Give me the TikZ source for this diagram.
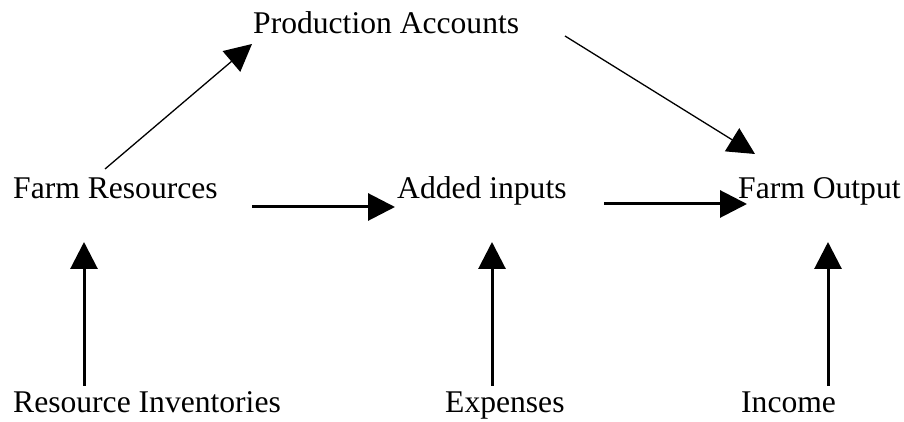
\documentclass[tikz,border=0pt]{standalone}
\usepackage{fontspec}
\setmainfont{Liberation Serif}
\usetikzlibrary{arrows.meta, calc}
\tikzset{>={Triangle[length=27pt,width=27pt]}}
\tikzset{
  boxtext/.style={inner sep=0pt, anchor=base west, font=\fontsize{31.6}{38}\selectfont},
  thinflow/.style={->, line width=1.3pt},
  thickflow/.style={->, line width=3pt}
}

\begin{document}
\begin{tikzpicture}[x=1pt, y=1pt]
      \useasboundingbox (0, 0) rectangle (904, 422);
      % account boxes
      \node[boxtext] (prod) at (253, 388) {Production Accounts};
      \node[boxtext] (fres) at (13, 223) {Farm Resources};
      \node[boxtext] (added) at (397, 223) {Added inputs};
      \node[boxtext] (fout) at (738, 223) {Farm Output};
      \node[boxtext] (resinv) at (13, 9) {Resource Inventories};
      \node[boxtext] (exp) at (445, 9) {Expenses};
      \node[boxtext] (inc) at (741, 9) {Income};
      % flows
      \draw[thinflow] ($(fres.base west)+(92, 30)$) to ($(prod.base west)+(-1, -10)$);
      \draw[thinflow] ($(prod.base west)+(312, -2)$) to ($(fout.base west)+(17, 45)$);
      \draw[thickflow] ($(fres.base west)+(239, -8)$) to ($(added.base west)+(-2, -8)$);
      \draw[thickflow] ($(added.base west)+(207, -5)$) to ($(fout.base west)+(9, -5)$);
      \draw[thickflow] ($(resinv.base west)+(71, 27)$) to ($(fres.base west)+(71, -43)$);
      \draw[thickflow] ($(exp.base west)+(47, 27)$) to ($(added.base west)+(95, -43)$);
      \draw[thickflow] ($(inc.base west)+(87, 27)$) to ($(fout.base west)+(90, -43)$);
    \end{tikzpicture}
\end{document}
